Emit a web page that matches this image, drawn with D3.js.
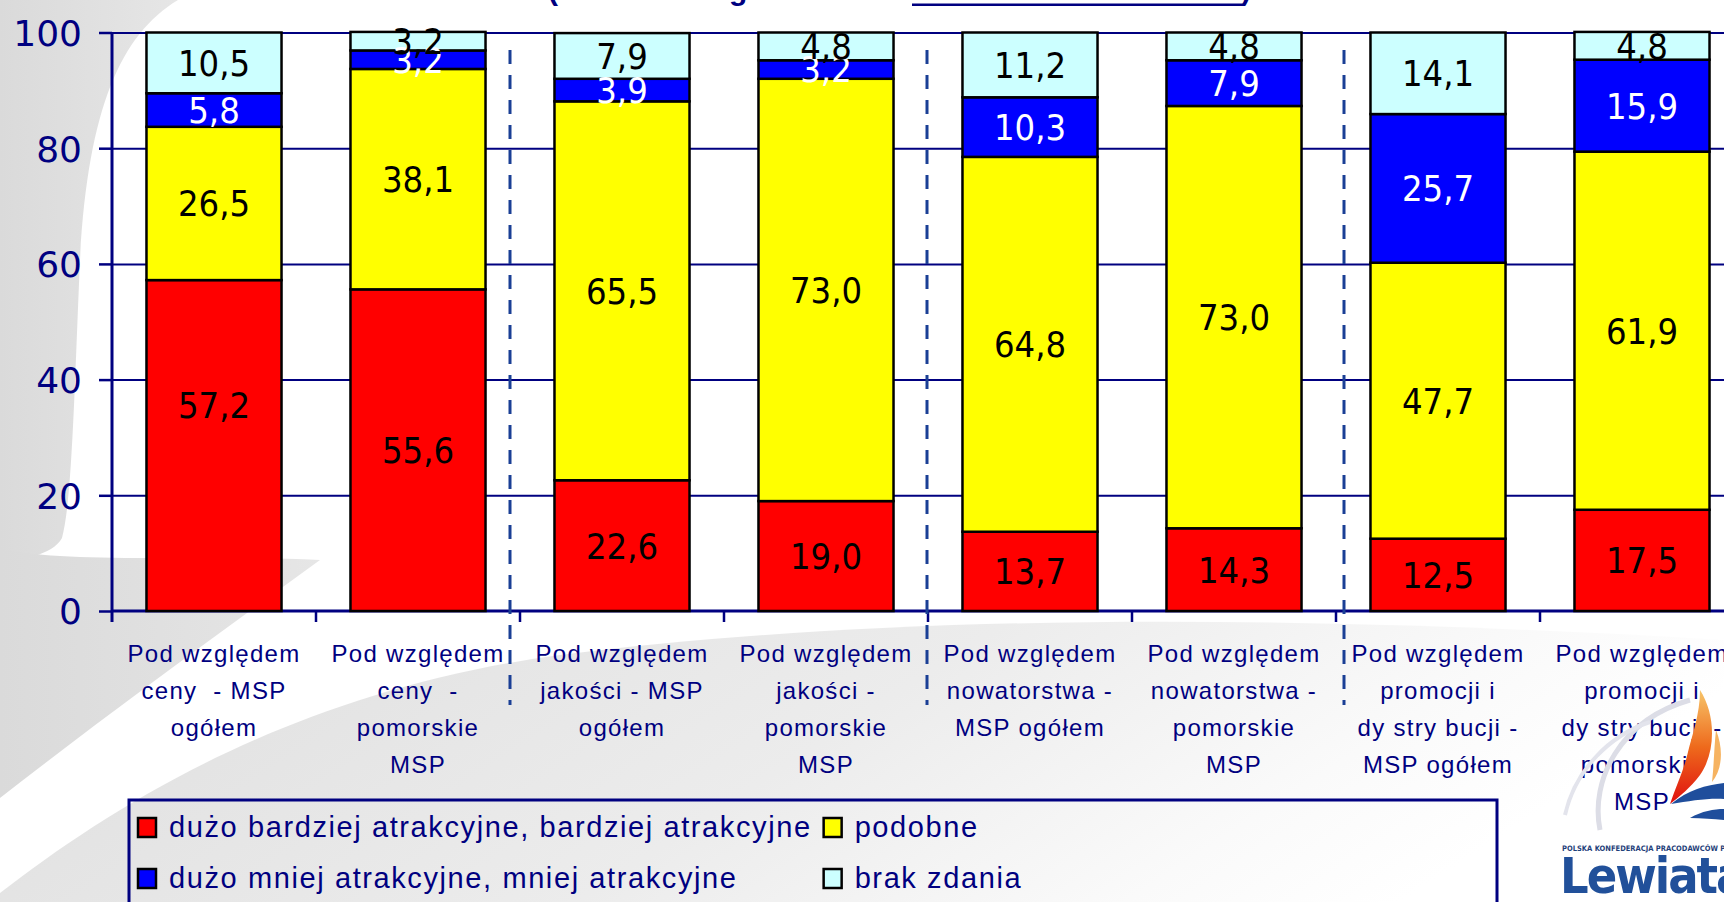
<!DOCTYPE html>
<meta charset="utf-8">
<script src="https://d3js.org/d3.v7.min.js"></script>
<style>
  body { margin: 0; background: #fff; }
  svg { display: block; }
</style>
<div id="chart"></div>
<script>
// category labels, one entry per line as printed under each bar
var catLines = [
  ["Pod względem", "ceny  - MSP", "ogółem"],
  ["Pod względem", "ceny  -", "pomorskie", "MSP"],
  ["Pod względem", "jakości - MSP", "ogółem"],
  ["Pod względem", "jakości -", "pomorskie", "MSP"],
  ["Pod względem", "nowatorstwa -", "MSP ogółem"],
  ["Pod względem", "nowatorstwa -", "pomorskie", "MSP"],
  ["Pod względem", "promocji i", "dy stry bucji -", "MSP ogółem"],
  ["Pod względem", "promocji i", "dy stry bucji -", "pomorskie", "MSP"]
];
var seriesNames = [
  "dużo bardziej atrakcyjne, bardziej atrakcyjne",
  "podobne",
  "dużo mniej atrakcyjne, mniej atrakcyjne",
  "brak zdania"
];
var bardziej = [57.2, 55.6, 22.6, 19.0, 13.7, 14.3, 12.5, 17.5];
var podobne  = [26.5, 38.1, 65.5, 73.0, 64.8, 73.0, 47.7, 61.9];
var mniej    = [5.8, 3.2, 3.9, 3.2, 10.3, 7.9, 25.7, 15.9];
var brak     = [10.5, 3.2, 7.9, 4.8, 11.2, 4.8, 14.1, 4.8];
var yTicks = [0, 20, 40, 60, 80, 100];
var groupBreaks = [2, 4, 6];   // dashed separators sit before these bars

var colors = ["#ff0000", "#ffff00", "#0000ff", "#ccffff"];
var labelColors = ["#000", "#000", "#fff", "#000"];
var navy = "#000080";

var W = 1724, H = 902;
var svg = d3.select("#chart").append("svg")
  .attr("width", W).attr("height", H);

// ---- background swooshes of the slide template
var defs = svg.append("defs");
var g1 = defs.append("linearGradient").attr("id", "gLeft").attr("x1", 0).attr("x2", 1);
g1.append("stop").attr("offset", 0).attr("stop-color", "#dadada");
g1.append("stop").attr("offset", 1).attr("stop-color", "#e6e6e6");
var g2 = defs.append("linearGradient").attr("id", "gLow")
  .attr("x1", 0).attr("y1", 0).attr("x2", 1).attr("y2", 0.25);
g2.append("stop").attr("offset", 0).attr("stop-color", "#dedede");
g2.append("stop").attr("offset", 0.55).attr("stop-color", "#ececec");
g2.append("stop").attr("offset", 0.85).attr("stop-color", "#fafafa");
g2.append("stop").attr("offset", 1).attr("stop-color", "#ffffff");
var g3 = defs.append("linearGradient").attr("id", "flame")
  .attr("x1", 0).attr("y1", 0).attr("x2", 0).attr("y2", 1);
g3.append("stop").attr("offset", 0).attr("stop-color", "#f7c56a");
g3.append("stop").attr("offset", 0.5).attr("stop-color", "#ee6a1c");
g3.append("stop").attr("offset", 1).attr("stop-color", "#e0100f");

var bg = svg.append("g");
bg.append("path").attr("fill", "url(#gLeft)")
  .attr("d", "M0,0 H178 C120,35 88,110 80,260 C74,400 72,500 62,538 C52,556 20,560 0,560 Z");
bg.append("path").attr("fill", "url(#gLeft)")
  .attr("d", "M0,548 C30,556 80,558 150,558 C220,558 270,558 320,560 C210,640 100,720 0,798 Z");
bg.append("path").attr("fill", "url(#gLow)")
  .attr("d", "M0,902 V893 C120,800 300,690 560,655 C900,612 1300,615 1724,640 V902 Z");

// ---- title fragments cut off at the top edge
var title = svg.append("g").attr("fill", navy)
  .style("font-family", "'Liberation Sans', Arial, sans-serif")
  .style("font-weight", "bold").style("font-size", "30px");
title.append("text").attr("x", 548).attr("y", 0).text("(");
title.append("text").attr("x", 729).attr("y", 0).text("g");
title.append("text").attr("x", 1241).attr("y", 0).text(")");
title.append("rect").attr("x", 912).attr("y", 3.5).attr("width", 331).attr("height", 2.5);

// ---- scales
var x = d3.scaleBand().domain(d3.range(catLines.length))
  .range([112, 112 + 8 * 204]).paddingInner(0.338).paddingOuter(0.169);
var y = d3.scaleLinear().domain([0, 100]).range([611, 32.5]);
var x0 = x.range()[0], step = x.step();

// gridlines
svg.append("g")
  .attr("transform", "translate(" + x0 + ",0)")
  .call(d3.axisLeft(y).tickValues(yTicks.slice(1)).tickSize(-(W - x0)).tickFormat(""))
  .call(function(g) {
    g.select(".domain").remove();
    g.selectAll("line").attr("stroke", navy).attr("stroke-width", 2);
  });

// y axis ticks and labels
svg.append("g")
  .attr("transform", "translate(" + x0 + ",0)")
  .call(d3.axisLeft(y).tickValues(yTicks).tickSize(13).tickPadding(17))
  .call(function(g) {
    g.select(".domain").remove();
    g.selectAll("line").attr("stroke", navy).attr("stroke-width", 2.5);
    g.selectAll("text").attr("fill", navy).attr("dy", "0.36em")
      .style("font-family", "'DejaVu Sans', Verdana, sans-serif")
      .style("font-size", "36px");
  });

// axis lines
svg.append("line").attr("x1", x0).attr("x2", x0)
  .attr("y1", y(100)).attr("y2", 622)
  .attr("stroke", navy).attr("stroke-width", 3);
svg.append("line").attr("x1", x0).attr("x2", W)
  .attr("y1", y(0)).attr("y2", y(0))
  .attr("stroke", navy).attr("stroke-width", 3);
svg.append("g").selectAll("line")
  .data(d3.range(1, catLines.length + 1))
  .join("line")
  .attr("x1", function(i) { return x0 + i * step; })
  .attr("x2", function(i) { return x0 + i * step; })
  .attr("y1", y(0)).attr("y2", 622)
  .attr("stroke", navy).attr("stroke-width", 2.5);

// ---- stacked bars
var rows = catLines.map(function(c, i) {
  return { idx: i, s0: bardziej[i], s1: podobne[i], s2: mniej[i], s3: brak[i] };
});
var keys = ["s0", "s1", "s2", "s3"];
var stacked = d3.stack().keys(keys)(rows);

var layers = svg.append("g").selectAll("g")
  .data(stacked).join("g")
  .attr("fill", function(d, k) { return colors[k]; });
layers.selectAll("rect")
  .data(function(d) { return d; })
  .join("rect")
  .attr("x", function(d) { return x(d.data.idx); })
  .attr("y", function(d) { return y(d[1]); })
  .attr("width", x.bandwidth())
  .attr("height", function(d) { return y(d[0]) - y(d[1]); })
  .attr("stroke", "#000").attr("stroke-width", 2.5);

// value labels (the 57,2 label was moved up in the original)
var labelNudge = { "0-0": 7 };
var fmt = function(v) { return d3.format(".1f")(v).replace(".", ","); };
stacked.forEach(function(layer, k) {
  svg.append("g").selectAll("text")
    .data(layer).join("text")
    .attr("x", function(d) { return x(d.data.idx) + x.bandwidth() / 2; })
    .attr("y", function(d) {
      var n = labelNudge[k + "-" + d.data.idx] || 0;
      return y((d[0] + d[1]) / 2 + n);
    })
    .attr("dy", "0.36em")
    .attr("text-anchor", "middle")
    .attr("fill", labelColors[k])
    .style("font-family", "'DejaVu Sans Condensed', 'DejaVu Sans', sans-serif")
    .style("font-size", "36px")
    .text(function(d) { return fmt(d.data[keys[k]]); });
});

// dashed group separators
svg.append("g").selectAll("line")
  .data(groupBreaks).join("line")
  .attr("x1", function(b) { return x0 + b * step - 10 + (b - 2) * 4.5; })
  .attr("x2", function(b) { return x0 + b * step - 10 + (b - 2) * 4.5; })
  .attr("y1", 50).attr("y2", 705)
  .attr("stroke", "#1a3f95").attr("stroke-width", 3)
  .attr("stroke-dasharray", "14,11");

// category labels
svg.append("g").selectAll("text")
  .data(catLines).join("text")
  .attr("text-anchor", "middle")
  .attr("fill", navy)
  .style("font-family", "'Liberation Sans', Arial, sans-serif")
  .style("font-size", "24px")
  .style("letter-spacing", "1.3px")
  .style("white-space", "pre")
  .each(function(lines, i) {
    var t = d3.select(this);
    lines.forEach(function(l, j) {
      t.append("tspan")
        .attr("x", x0 + (i + 0.5) * step)
        .attr("y", 662 + j * 37)
        .text(l);
    });
  });

// ---- legend
var legend = svg.append("g");
legend.append("rect")
  .attr("x", 129).attr("y", 800).attr("width", 1368).attr("height", 160)
  .attr("fill", "none").attr("stroke", navy).attr("stroke-width", 3);
var legText = legend.append("g")
  .style("font-family", "'Liberation Sans', Arial, sans-serif")
  .style("font-size", "29px")
  .style("letter-spacing", "1.6px")
  .attr("fill", navy);
var colX = [138, 0];
var probe = legText.append("text").text(seriesNames[0]);
colX[1] = 169 + probe.node().getComputedTextLength() + 12;
probe.remove();
seriesNames.forEach(function(name, k) {
  var cx = colX[k % 2], base = 837 + Math.floor(k / 2) * 51;
  legend.append("rect")
    .attr("x", cx).attr("y", base - 19).attr("width", 18).attr("height", 19)
    .attr("fill", colors[k]).attr("stroke", "#000").attr("stroke-width", 2.5);
  legText.append("text").attr("x", cx + 31).attr("y", base).text(name);
});

// ---- Lewiatan logo (bottom right)
var logo = svg.append("g");
logo.append("path").attr("fill", "none").attr("stroke", "#dcdde6").attr("stroke-width", 5)
  .attr("d", "M1600,830 C1590,780 1620,720 1690,700");
logo.append("path").attr("fill", "none").attr("stroke", "#e3e4ec").attr("stroke-width", 4)
  .attr("d", "M1565,815 C1575,770 1610,735 1650,722");
logo.append("path").attr("fill", "url(#flame)")
  .attr("d", "M1700,690 C1716,715 1716,752 1700,775 C1690,788 1680,796 1670,804 C1676,786 1684,770 1688,752 C1692,735 1700,715 1700,690 Z");
logo.append("path").attr("fill", "#f4a03a").attr("opacity", 0.8)
  .attr("d", "M1716,730 C1724,750 1722,770 1712,782 C1714,765 1714,748 1716,730 Z");
logo.append("path").attr("fill", "#1f4e9c")
  .attr("d", "M1671,804 C1688,790 1706,785 1724,783 L1724,799 C1708,798 1690,801 1671,804 Z");
logo.append("path").attr("fill", "#1f4e9c")
  .attr("d", "M1690,818 C1702,811 1714,809 1724,809 L1724,820 C1713,819 1702,818 1690,818 Z");
logo.append("text").attr("x", 1562).attr("y", 851)
  .attr("fill", "#1f3f7a")
  .style("font-family", "'DejaVu Sans Condensed', sans-serif")
  .style("font-weight", "bold").style("font-size", "7.5px")
  .text("POLSKA KONFEDERACJA PRACODAWCÓW PRYWATNYCH");
logo.append("text").attr("x", 1560).attr("y", 893)
  .attr("fill", "#21509a")
  .style("font-family", "'DejaVu Sans Condensed', sans-serif")
  .style("font-weight", "bold").style("font-size", "50px")
  .style("letter-spacing", "-2px")
  .text("Lewiatan");
</script>
